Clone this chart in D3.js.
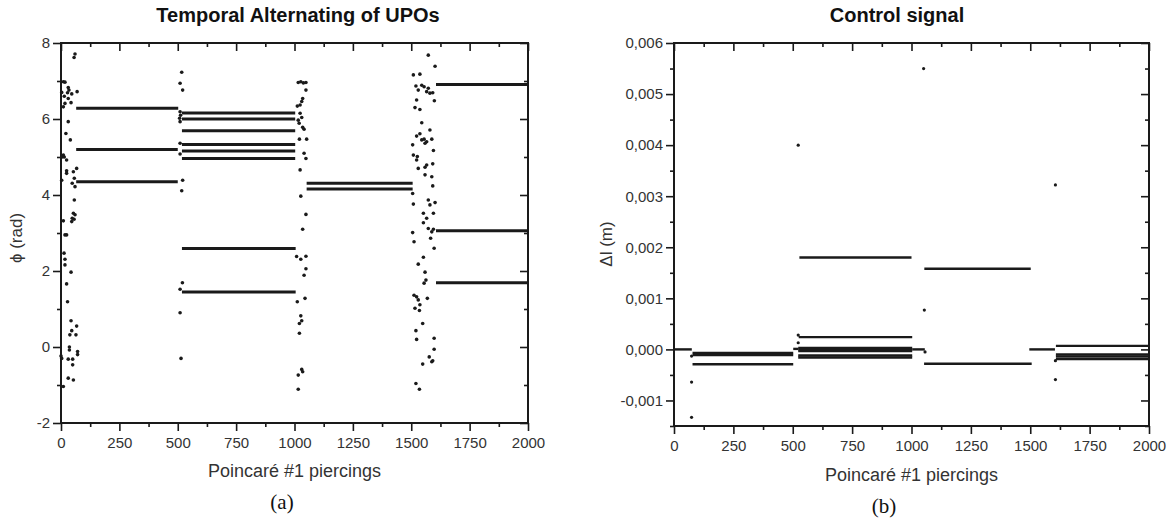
<!DOCTYPE html>
<html>
<head>
<meta charset="utf-8">
<script src="https://cdn.jsdelivr.net/npm/d3@7"></script>
<style>
    body { margin: 0; background: #fff; }
    svg { display: block; font-family: "Liberation Sans", Arial, sans-serif; }
</style>
</head>
<body>
<svg></svg>
<script>
// x axis ticks (both panels)
var xTicks = [0, 250, 500, 750, 1000, 1250, 1500, 1750, 2000];

// panel (a) phase axis
var phiTicks = [-2, 0, 2, 4, 6, 8];
var phiTickLabels = ["-2", "0", "2", "4", "6", "8"];

// panel (b) control axis
var dlTicks = [-0.001, 0, 0.001, 0.002, 0.003, 0.004, 0.005, 0.006];
var dlTickLabels = ["-0,001", "0,000", "0,001", "0,002", "0,003", "0,004", "0,005", "0,006"];

// stabilised orbits: [first piercing, last piercing, phi (rad)]
var phiPlateaus = [
    [65, 502, 6.28], [65, 500, 5.20], [65, 500, 4.35],
    [518, 1003, 6.16], [518, 1003, 6.00], [518, 1003, 5.69], [518, 1003, 5.33],
    [518, 1003, 5.16], [518, 1003, 4.96], [518, 1005, 2.59], [518, 1005, 1.45],
    [1052, 1506, 4.31], [1052, 1506, 4.16],
    [1606, 2000, 6.91], [1606, 2000, 3.06], [1606, 2000, 1.69]
];

// chaotic transients between the orbits: [piercing, phi (rad)]
var phiTransients = [
    [60, 7.71], [56, 7.62], [10, 6.98], [17, 6.97], [31, 6.83], [34, 6.76], [28, 6.69], [46, 6.66],
    [69, 6.72], [14, 6.6], [31, 6.54], [17, 6.41], [43, 6.43], [10, 6.32], [3, 6.7], [31, 5.93],
    [21, 5.62], [40, 5.45], [5, 5.0], [10, 5.05], [14, 5.0], [24, 4.92], [67, 4.7], [24, 4.64],
    [24, 4.57], [53, 4.61], [57, 4.44], [48, 4.31], [60, 4.22], [3, 4.39], [57, 3.87], [53, 3.52],
    [60, 3.48], [48, 3.39], [56, 3.36], [46, 3.30], [10, 3.32], [17, 2.95], [24, 2.95], [13, 2.47],
    [17, 2.31], [17, 2.16], [43, 1.97], [24, 1.66], [28, 1.19], [43, 0.69], [67, 0.55], [46, 0.43],
    [38, 0.32], [64, 0.32], [36, 0.0], [36, -0.08], [71, -0.12], [71, -0.2], [0, -0.24], [3, -0.3],
    [31, -0.32], [50, -0.32], [50, -0.47], [31, -0.82], [53, -0.87], [10, -1.04],
    [517, 7.23], [510, 6.94], [521, 6.76], [510, 6.19], [512, 6.1], [508, 6.02], [510, 5.93],
    [510, 5.36], [510, 5.08], [521, 4.39], [517, 4.11], [510, 1.52], [520, 1.69], [510, 0.9], [514, -0.3],
    [1016, 6.96], [1027, 6.98], [1038, 6.95], [1049, 6.96], [1049, 6.76], [1035, 6.54], [1031, 6.46],
    [1024, 6.37], [1012, 6.34], [1024, 6.15], [1031, 6.04], [1016, 5.97], [1020, 5.89], [1035, 5.78],
    [1041, 5.73], [1021, 5.47], [1052, 5.47], [1041, 5.1], [1049, 4.96], [1024, 4.66], [1027, 3.97],
    [1049, 3.49], [1035, 3.1], [1009, 2.38], [1027, 2.31], [1049, 2.39], [1049, 2.06], [1041, 1.89],
    [1012, 1.19], [1045, 1.28], [1027, 0.82], [1031, 0.69], [1021, 0.62], [1021, 0.36], [1031, -0.59],
    [1035, -0.65], [1016, -0.74], [1016, -1.11],
    [1573, 7.68], [1602, 7.39], [1509, 7.16], [1537, 7.18], [1520, 6.87], [1530, 6.76], [1545, 6.89],
    [1555, 6.85], [1566, 6.72], [1580, 6.68], [1592, 6.69], [1573, 6.81], [1599, 6.48], [1523, 6.5],
    [1516, 6.3], [1537, 6.25], [1545, 5.9], [1580, 5.71], [1523, 5.55], [1537, 5.61], [1545, 5.45],
    [1555, 5.47], [1566, 5.4], [1588, 5.47], [1595, 5.17], [1559, 5.36], [1506, 5.32], [1509, 5.05],
    [1526, 5.01], [1523, 4.92], [1566, 4.79], [1559, 4.73], [1592, 4.82], [1530, 4.7], [1559, 4.53],
    [1588, 4.48], [1592, 4.24], [1506, 4.04], [1509, 3.76], [1573, 3.87], [1580, 3.74], [1602, 3.8],
    [1552, 3.52], [1566, 3.39], [1595, 3.52], [1552, 3.27], [1573, 3.12], [1588, 3.03], [1595, 3.1],
    [1583, 2.86], [1598, 2.6], [1506, 3.01], [1512, 2.77], [1552, 2.36], [1530, 2.18], [1559, 1.97],
    [1563, 1.76], [1555, 1.68], [1512, 1.36], [1523, 1.32], [1530, 1.24], [1537, 1.11], [1516, 1.02],
    [1535, 0.96], [1569, 1.28], [1549, 0.62], [1520, 0.43], [1523, 0.2], [1598, 0.23], [1598, -0.06],
    [1577, -0.26], [1588, -0.39], [1592, -0.36], [1549, -0.45], [1520, -0.96], [1535, -1.11]
];

// control signal plateaus: [first piercing, last piercing, delta l (m)]
var dlPlateaus = [
    [0, 75, 0], [78, 502, -0.00007], [78, 502, -0.00011], [78, 502, -0.00029], [502, 523, 0.00001],
    [528, 1000, 0.0018], [525, 1003, 0.00024], [523, 1003, 0.00003], [523, 1003, 0.0],
    [523, 1003, -0.00003], [523, 1003, -0.00012], [523, 1003, -0.00016],
    [1003, 1056, 0], [1054, 1502, 0.00158], [1053, 1506, -0.00028], [1496, 1604, 0],
    [1608, 2000, 0.00007], [1608, 2000, -0.0001], [1608, 2000, -0.00014], [1608, 2000, -0.00019]
];

// control kicks: [piercing, delta l (m)]
var dlTransients = [
    [74, -0.00013], [74, -0.00064], [74, -0.00133], [523, 0.004], [523, 0.00013], [523, 0.00028],
    [1051, 0.0055], [1054, 0.00077], [1057, -0.00005], [1606, 0.00322], [1606, -0.00022], [1606, -0.00059]
];

document.addEventListener("DOMContentLoaded", function() {

    var width = 1172;
    var height = 523;
    var svg = d3.select('svg')
                .attr('width', width)
                .attr('height', height);

    var ink = "#1a1a1a";
    var textInk = "#333";

    function drawPanel(p) {
        var xScale = d3.scaleLinear().domain([0, 2000]).range([p.left, p.right]);
        var yScale = d3.scaleLinear().domain(p.yDomain).range([p.bottom, p.top]);
        var g = svg.append("g");

        var xMinor = xTicks.slice(1).map((t, i) => (t + xTicks[i]) / 2);
        var yMinor = p.yTicks.slice(1).map((t, i) => (t + p.yTicks[i]) / 2);
        if (p.yExtraMinor) yMinor = p.yExtraMinor.concat(yMinor);

        // bottom + top (top ticks point inward, same direction)
        [p.bottom, p.top].forEach(function(yPos, k) {
            var major = d3.axisBottom(xScale).tickValues(xTicks).tickSize(8).tickSizeOuter(0)
                          .tickFormat(k == 0 ? d3.format("d") : "");
            var minor = d3.axisBottom(xScale).tickValues(xMinor).tickSize(4).tickSizeOuter(0).tickFormat("");
            g.append("g").attr("transform", `translate(0,${yPos})`).call(major);
            g.append("g").attr("transform", `translate(0,${yPos})`).call(minor);
        });

        // left + right (right ticks point inward)
        [p.left, p.right].forEach(function(xPos, k) {
            var major = d3.axisLeft(yScale).tickValues(p.yTicks).tickSize(8).tickSizeOuter(0)
                          .tickFormat(k == 0 ? (d, i) => p.yTickLabels[i] : "");
            var minor = d3.axisLeft(yScale).tickValues(yMinor).tickSize(4).tickSizeOuter(0).tickFormat("");
            g.append("g").attr("transform", `translate(${xPos},0)`).call(major);
            g.append("g").attr("transform", `translate(${xPos},0)`).call(minor);
        });

        g.selectAll(".domain").remove();
        g.selectAll(".tick line").attr("stroke", ink).attr("stroke-width", 1.6);
        g.selectAll(".tick text")
         .attr("fill", textInk)
         .style("font-size", "15px");
        g.selectAll(".tick text").filter(function() { return this.getAttribute("dy") == "0.71em"; })
         .attr("y", 14);

        g.append("rect")
         .attr("x", p.left).attr("y", p.top)
         .attr("width", p.right - p.left).attr("height", p.bottom - p.top)
         .attr("fill", "none").attr("stroke", ink).attr("stroke-width", 2);

        // orbit plateaus
        g.selectAll("line.plateau")
         .data(p.plateaus)
         .enter()
           .append("line")
           .attr("class", "plateau")
           .attr("x1", d => xScale(d[0]))
           .attr("x2", d => xScale(d[1]))
           .attr("y1", d => yScale(d[2]))
           .attr("y2", d => yScale(d[2]))
           .attr("stroke", ink)
           .attr("stroke-width", p.lineWidth);

        // scattered piercings
        g.selectAll("circle")
         .data(p.points)
         .enter()
           .append("circle")
           .attr("cx", d => xScale(d[0]))
           .attr("cy", d => yScale(d[1]))
           .attr("r", p.dotR)
           .attr("fill", ink);

        g.append("text")
         .attr("x", p.titleX).attr("y", 22)
         .attr("text-anchor", "middle")
         .style("font-weight", "bold").style("font-size", "20px")
         .attr("fill", "#111")
         .text(p.title);

        g.append("text")
         .attr("x", (p.left + p.right) / 2).attr("y", p.xLabelY)
         .attr("text-anchor", "middle")
         .style("font-size", "18px")
         .attr("fill", textInk)
         .text("Poincaré #1 piercings");

        g.append("text")
         .attr("transform", `translate(${p.yLabelX},${p.yLabelY}) rotate(-90)`)
         .attr("text-anchor", "middle")
         .style("font-size", "17px")
         .attr("fill", textInk)
         .text(p.yLabel);

        g.append("text")
         .attr("x", p.tagX).attr("y", p.tagY)
         .attr("text-anchor", "middle")
         .style("font-family", '"Liberation Serif", "Times New Roman", serif')
         .style("font-size", "21px")
         .attr("fill", "#111")
         .text(p.tag);
    }

    drawPanel({
        left: 61, right: 528, top: 43, bottom: 423,
        yDomain: [-2, 8], yTicks: phiTicks, yTickLabels: phiTickLabels,
        plateaus: phiPlateaus, points: phiTransients,
        lineWidth: 3, dotR: 1.8,
        title: "Temporal Alternating of UPOs", titleX: 298,
        yLabel: "ϕ (rad)", yLabelX: 22, yLabelY: 238,
        xLabelY: 477, tag: "(a)", tagX: 282, tagY: 509
    });

    drawPanel({
        left: 674, right: 1149, top: 43, bottom: 426,
        yDomain: [-0.0015, 0.006], yTicks: dlTicks, yTickLabels: dlTickLabels,
        yExtraMinor: [-0.0015],
        plateaus: dlPlateaus, points: dlTransients,
        lineWidth: 2.4, dotR: 1.6,
        title: "Control signal", titleX: 897,
        yLabel: "Δl (m)", yLabelX: 612, yLabelY: 244,
        xLabelY: 481, tag: "(b)", tagX: 884, tagY: 513
    });
});
</script>
</body>
</html>
